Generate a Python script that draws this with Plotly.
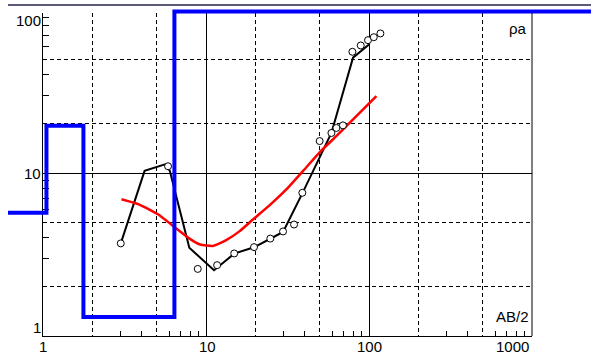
import plotly.graph_objects as go

# Measured apparent resistivity (open circles)
ab2_obs = [3.0, 5.85, 8.9, 11.7, 14.9, 19.7, 24.8, 29.7, 34.7, 39.0,
           49.8, 58.8, 63.1, 69.2, 79.1, 89.0, 98.6, 107.0, 117.5]
rho_obs = [3.7, 11.0, 2.58, 2.72, 3.21, 3.51, 3.96, 4.38, 4.83, 7.56,
           15.7, 17.6, 18.9, 19.6, 55.4, 60.6, 65.3, 68.1, 71.8]

# Field curve through the measurements (black line)
ab2_field = [3.0, 4.2, 5.6, 6.0, 7.9, 11.2, 14.9, 19.7, 24.8, 29.7, 39.0, 58.8, 79.8, 100.0]
rho_field = [3.7, 10.3, 11.3, 10.3, 3.48, 2.53, 3.2, 3.5, 3.95, 4.35, 7.5, 17.6, 51.0, 61.5]

# Computed model response (red line)
ab2_calc = [3.03, 3.9, 5.1, 6.3, 7.8, 9.2, 11.0, 12.1, 13.3, 16.1, 19.4,
            24.6, 31.0, 39.4, 49.8, 66.0, 111.0]
rho_calc = [6.9, 6.4, 5.56, 4.72, 4.0, 3.64, 3.57, 3.7, 3.87, 4.4, 5.18,
            6.35, 7.9, 10.3, 13.4, 17.6, 29.6]

# Layered model: layer boundaries (AB/2) and layer resistivities (blue steps)
layer_tops = [0.61, 1.05, 1.77, 6.4, 3000.0]
layer_rho = [5.7, 19.5, 1.31, 98.0, 98.0]

# Axis tick values
x_major = [10, 100]
x_dashed = [2, 5, 20, 50, 200, 500]
x_minor = [3, 4, 6, 7, 8, 9, 30, 40, 60, 70, 80, 90, 300, 400, 600, 700, 800, 900]
y_major = [10]
y_dashed = [2, 5, 20, 50]
y_minor = [3, 4, 6, 7, 8, 9, 30, 40, 60, 70, 80, 90]

W, H = 591, 354
L, R, T, B = 43, 532, 13, 336      # plot box edges in pixels
DEC = 163.0                         # pixels per decade
x_rng = [0.0, (R - L) / DEC]
y_rng = [0.0, (B - T) / DEC]

FONT = dict(family="Liberation Sans, Arial, sans-serif", size=15, color="black")

fig = go.Figure()

fig.add_trace(go.Scatter(x=ab2_field, y=rho_field, mode="lines",
                         line=dict(color="black", width=2), hoverinfo="skip"))
fig.add_trace(go.Scatter(x=ab2_calc, y=rho_calc, mode="lines",
                         line=dict(color="#ff0000", width=2.5, shape="spline", smoothing=0.5),
                         hoverinfo="skip"))
fig.add_trace(go.Scatter(x=ab2_obs, y=rho_obs, mode="markers",
                         marker=dict(symbol="circle", size=7, color="white",
                                     line=dict(color="black", width=1)),
                         hoverinfo="skip"))
# empty traces so the tick-only overlay axes are drawn
fig.add_trace(go.Scatter(x=[], y=[], xaxis="x3", yaxis="y", hoverinfo="skip"))
fig.add_trace(go.Scatter(x=[], y=[], xaxis="x", yaxis="y3", hoverinfo="skip"))

# layered model on a full-page axis pair with the same scale, so it can run past the box
fig.add_trace(go.Scatter(x=layer_tops, y=layer_rho, mode="lines", xaxis="x2", yaxis="y2",
                         line=dict(color="#0000ff", width=4, shape="hv"), hoverinfo="skip"))

common = dict(type="log", showticklabels=False, zeroline=False, fixedrange=True)

fig.update_layout(
    width=W, height=H, autosize=False,
    margin=dict(l=0, r=0, t=0, b=0, pad=0),
    paper_bgcolor="white", plot_bgcolor="rgba(0,0,0,0)",
    showlegend=False,
    xaxis=dict(common, domain=[L / W, R / W], range=x_rng, anchor="y",
               tickmode="array", tickvals=x_major, ticks="",
               showgrid=True, gridcolor="black", gridwidth=1,
               showline=True, linecolor="black", linewidth=1,
               minor=dict(tickmode="array", tickvals=x_dashed, showgrid=True,
                          gridcolor="black", gridwidth=1, griddash="4px,3px", ticks="")),
    yaxis=dict(common, domain=[(H - B) / H, (H - T) / H], range=y_rng, anchor="x",
               tickmode="array", tickvals=y_major, ticks="",
               showgrid=True, gridcolor="black", gridwidth=1,
               showline=True, linecolor="black", linewidth=1,
               minor=dict(tickmode="array", tickvals=y_dashed, showgrid=True,
                          gridcolor="black", gridwidth=1, griddash="4px,3px", ticks="")),
    xaxis3=dict(common, overlaying="x", anchor="y", side="bottom", range=x_rng,
                tickmode="array", tickvals=x_minor, ticks="inside", ticklen=5,
                tickwidth=1, tickcolor="black", showgrid=False, showline=False),
    yaxis3=dict(common, overlaying="y", anchor="x", side="left", range=y_rng,
                tickmode="array", tickvals=y_minor, ticks="inside", ticklen=6,
                tickwidth=1, tickcolor="black", showgrid=False, showline=False),
    xaxis2=dict(common, domain=[0, 1], anchor="y2", visible=False,
                range=[-L / DEC, (W - L) / DEC]),
    yaxis2=dict(common, domain=[0, 1], anchor="x2", visible=False,
                range=[-(H - B) / DEC, (B) / DEC]),
)

# right-hand frame edge and the rule across the top of the page
fig.add_shape(type="line", xref="x domain", yref="y domain", x0=1, x1=1, y0=0, y1=1,
              line=dict(color="black", width=1))
fig.add_shape(type="line", xref="paper", yref="paper", x0=8 / W, x1=1, y0=(H - 5) / H, y1=(H - 5) / H,
              line=dict(color="#23234f", width=1.5))

# tick labels (end labels are pulled inside the box)
ylab = [("100", "y domain", 1, -7), ("10", "y", 1, 0), ("1", "y", 0, 9)]
for txt, yref, yv, ys in ylab:
    fig.add_annotation(text=txt, xref="x domain", x=0, xanchor="right", xshift=0,
                       yref=yref, y=yv, yanchor="middle", yshift=ys,
                       showarrow=False, font=FONT)
xlab = [("1", 0, "center", 0), ("10", 1, "center", 1), ("100", 2, "center", 0), ("1000", 3, "right", -1)]
for txt, xv, xa, xs in xlab:
    fig.add_annotation(text=txt, xref="x", x=xv, xanchor=xa, xshift=xs,
                       yref="y domain", y=0, yanchor="middle", yshift=-10,
                       showarrow=False, font=FONT)

fig.add_annotation(text="ρa", xref="x domain", x=1, xanchor="right", xshift=-3,
                   yref="y domain", y=1, yanchor="middle", yshift=-15,
                   showarrow=False, font=FONT)
fig.add_annotation(text="AB/2", xref="x domain", x=1, xanchor="right", xshift=-1,
                   yref="y domain", y=0, yanchor="middle", yshift=20,
                   showarrow=False, font=FONT)

fig.write_html("out.html")
